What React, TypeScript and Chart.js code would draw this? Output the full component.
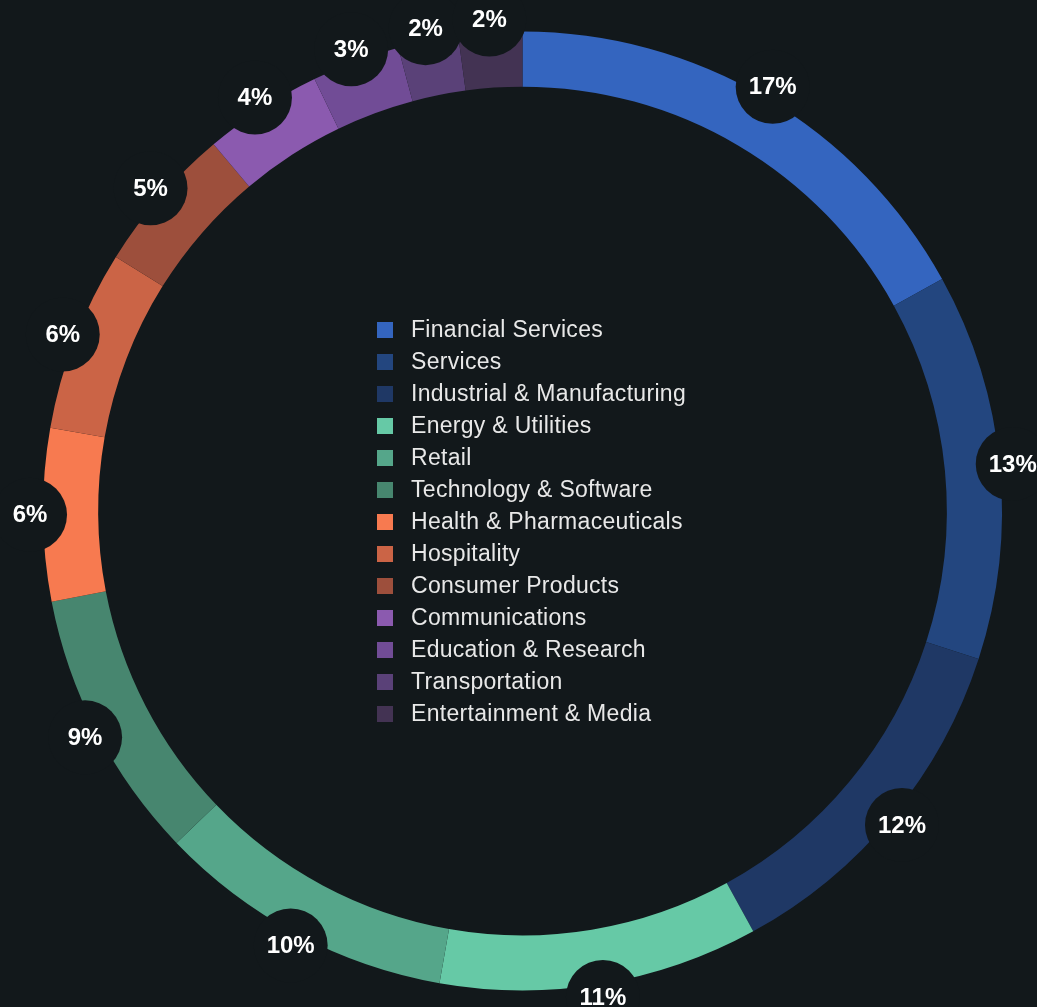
import React, { useEffect, useRef } from "react";
import { Chart, registerables } from "chart.js";

Chart.register(...registerables);

const categories = [
  "Financial Services",
  "Services",
  "Industrial & Manufacturing",
  "Energy & Utilities",
  "Retail",
  "Technology & Software",
  "Health & Pharmaceuticals",
  "Hospitality",
  "Consumer Products",
  "Communications",
  "Education & Research",
  "Transportation",
  "Entertainment & Media",
];

const shares = [16.96, 13.03, 12.02, 10.76, 10.06, 9.14, 5.81, 6.11, 4.97, 4.0, 2.97, 2.03, 2.14];

const colors = [
  "#3465bf",
  "#23467f",
  "#1f3865",
  "#66c9a6",
  "#55a68a",
  "#47866f",
  "#f77a50",
  "#cb6446",
  "#9d4f3c",
  "#8b5aaf",
  "#714c96",
  "#5a4178",
  "#433353",
];

const BG = "#12181b";
const FONT = "'Liberation Sans', Arial, Helvetica, sans-serif";

const percentLabelPlugin = {
  id: "percentLabels",
  afterDatasetsDraw(chart: any) {
    const ctx = chart.ctx;
    const meta = chart.getDatasetMeta(0);
    const data = chart.data.datasets[0].data as number[];
    const total = data.reduce((a, b) => a + b, 0);
    ctx.save();
    meta.data.forEach((arc: any, i: number) => {
      const p = arc.getProps(["startAngle", "endAngle", "outerRadius", "x", "y"], true);
      const mid = (p.startAngle + p.endAngle) / 2;
      const r = p.outerRadius + 13;
      const lx = p.x + Math.cos(mid) * r;
      const ly = p.y + Math.sin(mid) * r;
      ctx.beginPath();
      ctx.arc(lx, ly, 37, 0, Math.PI * 2);
      ctx.fillStyle = BG;
      ctx.fill();
      ctx.fillStyle = "#ffffff";
      ctx.font = `bold 24px ${FONT}`;
      ctx.textAlign = "center";
      ctx.textBaseline = "middle";
      ctx.fillText(Math.round((data[i] / total) * 100) + "%", lx, ly + 1);
    });
    ctx.restore();
  },
};

const centerLegendPlugin = {
  id: "centerLegend",
  afterDraw(chart: any) {
    const ctx = chart.ctx;
    const meta = chart.getDatasetMeta(0);
    const first = meta.data[0];
    if (!first) return;
    const cx = first.x;
    const cy = first.y;
    const labels = chart.data.labels as string[];
    const bg = chart.data.datasets[0].backgroundColor as string[];
    const left = cx - 145.5;
    const top = cy - 181;
    ctx.save();
    ctx.font = `23px ${FONT}`;
    try {
      (ctx as any).letterSpacing = "0.3px";
    } catch (e) {}
    ctx.textBaseline = "middle";
    ctx.textAlign = "left";
    labels.forEach((lab, i) => {
      const y = top + i * 32;
      ctx.fillStyle = bg[i];
      ctx.fillRect(left, y - 8, 16, 16);
      ctx.fillStyle = "#e8e8e8";
      ctx.fillText(lab, left + 34, y + 1);
    });
    ctx.restore();
  },
};

export default function App() {
  const canvasRef = useRef<HTMLCanvasElement | null>(null);

  useEffect(() => {
    if (!canvasRef.current) return;
    const chart = new Chart(canvasRef.current, {
      type: "doughnut",
      data: {
        labels: categories,
        datasets: [
          {
            data: shares,
            backgroundColor: colors,
            borderWidth: 0,
            hoverOffset: 0,
            offset: 0,
          },
        ],
      },
      options: {
        animation: false,
        responsive: true,
        maintainAspectRatio: false,
        cutout: "88.5%",
        layout: { padding: { top: 31, bottom: 16, left: 43, right: 35 } },
        plugins: {
          legend: { display: false },
          tooltip: { enabled: false },
        },
        events: [],
      },
      plugins: [percentLabelPlugin, centerLegendPlugin],
    });
    return () => chart.destroy();
  }, []);

  return (
    <div
      style={{
        position: "fixed",
        left: 0,
        top: 0,
        width: "100vw",
        height: "100vh",
        background: BG,
      }}
    >
      <canvas ref={canvasRef} />
    </div>
  );
}
